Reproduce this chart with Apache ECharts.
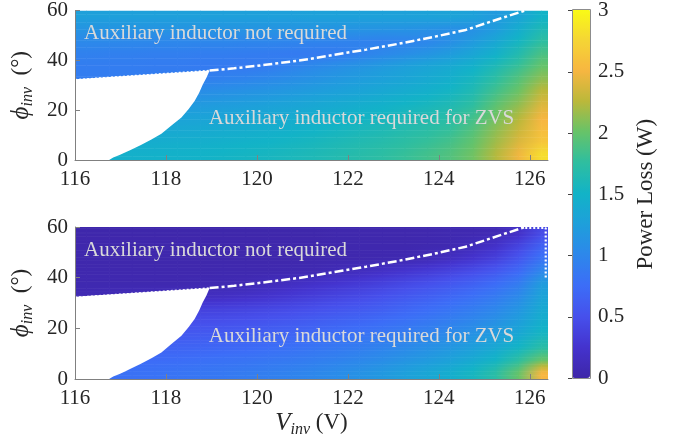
<!DOCTYPE html>
<html><head><meta charset="utf-8">
<script src="https://cdn.jsdelivr.net/npm/echarts@6/dist/echarts.min.js"></script>
<style>html,body{margin:0;padding:0;background:#fff}#c{width:673px;height:442px}</style>
</head><body><div id="c"></div><script>
// ---- data ----
const vinvCenters = [116.25,116.75,117.25,117.75,118.25,118.75,119.25,119.75,120.25,120.75,121.25,121.75,122.25,122.75,123.25,123.75,124.25,124.75,125.25,125.75,126.25];
const phiCenters = [2.5,7.5,12.5,17.5,22.5,27.5,32.5,37.5,42.5,47.5,52.5,57.5];
// power loss (W), one row per phi, upper plot
const lossTop = [
 [1.45,1.45,1.46,1.47,1.48,1.49,1.51,1.53,1.55,1.58,1.61,1.65,1.69,1.73,1.78,1.84,1.91,2.03,2.23,2.47,2.80],
 [1.40,1.40,1.41,1.42,1.43,1.44,1.46,1.48,1.50,1.53,1.56,1.60,1.64,1.68,1.73,1.78,1.85,1.98,2.17,2.38,2.62],
 [1.33,1.33,1.34,1.35,1.36,1.37,1.39,1.41,1.43,1.46,1.49,1.53,1.57,1.61,1.66,1.71,1.77,1.91,2.11,2.30,2.55],
 [1.25,1.25,1.26,1.27,1.28,1.29,1.31,1.33,1.36,1.39,1.42,1.46,1.50,1.54,1.59,1.64,1.70,1.83,2.03,2.22,2.48],
 [1.15,1.15,1.16,1.17,1.18,1.19,1.21,1.24,1.27,1.30,1.34,1.38,1.42,1.46,1.51,1.56,1.62,1.74,1.95,2.12,2.38],
 [1.02,1.02,1.03,1.04,1.05,1.07,1.09,1.12,1.15,1.19,1.23,1.27,1.31,1.36,1.41,1.46,1.53,1.64,1.84,2.02,2.26],
 [0.90,0.90,0.90,0.91,0.92,0.93,0.95,0.98,1.02,1.07,1.12,1.17,1.22,1.27,1.32,1.38,1.45,1.56,1.74,1.92,2.12],
 [0.90,0.90,0.90,0.89,0.89,0.88,0.88,0.87,0.90,0.96,1.02,1.08,1.14,1.20,1.26,1.32,1.38,1.47,1.62,1.80,2.00],
 [0.94,0.93,0.93,0.92,0.92,0.91,0.91,0.90,0.89,0.88,0.88,0.89,0.95,1.01,1.07,1.14,1.22,1.33,1.47,1.66,1.88],
 [1.02,1.02,1.01,1.01,1.00,1.00,1.00,0.99,0.99,0.98,0.97,0.96,0.95,0.94,0.96,1.00,1.08,1.20,1.35,1.54,1.75],
 [1.13,1.13,1.13,1.13,1.13,1.13,1.13,1.13,1.13,1.13,1.13,1.13,1.13,1.13,1.12,1.10,1.08,1.10,1.22,1.42,1.62],
 [1.26,1.26,1.26,1.26,1.26,1.26,1.26,1.26,1.26,1.26,1.27,1.27,1.27,1.28,1.28,1.29,1.30,1.28,1.20,1.30,1.50]
];
// power loss (W), lower plot
const lossBottom = [
 [0.78,0.78,0.79,0.80,0.82,0.84,0.86,0.89,0.92,0.96,1.00,1.05,1.11,1.18,1.26,1.34,1.43,1.55,1.72,2.00,2.50],
 [0.72,0.72,0.73,0.74,0.75,0.77,0.79,0.81,0.84,0.87,0.91,0.95,1.00,1.06,1.13,1.20,1.28,1.38,1.52,1.74,2.00],
 [0.64,0.64,0.65,0.66,0.67,0.68,0.70,0.72,0.75,0.78,0.82,0.86,0.90,0.96,1.02,1.09,1.16,1.25,1.36,1.52,1.72],
 [0.55,0.55,0.56,0.57,0.58,0.59,0.60,0.62,0.65,0.68,0.72,0.76,0.80,0.85,0.91,0.97,1.04,1.12,1.22,1.36,1.55],
 [0.45,0.45,0.46,0.47,0.48,0.49,0.50,0.52,0.55,0.58,0.62,0.66,0.70,0.75,0.80,0.86,0.93,1.01,1.11,1.25,1.45],
 [0.33,0.33,0.34,0.35,0.36,0.37,0.38,0.40,0.43,0.46,0.50,0.54,0.58,0.63,0.69,0.75,0.82,0.90,1.00,1.15,1.38],
 [0.08,0.10,0.12,0.14,0.15,0.16,0.18,0.21,0.25,0.30,0.35,0.40,0.45,0.51,0.57,0.63,0.70,0.78,0.88,1.03,1.30],
 [0.05,0.05,0.05,0.05,0.05,0.06,0.07,0.08,0.12,0.17,0.22,0.27,0.32,0.38,0.44,0.50,0.57,0.65,0.75,0.90,1.22],
 [0.04,0.04,0.04,0.04,0.04,0.04,0.05,0.05,0.05,0.06,0.07,0.10,0.15,0.20,0.26,0.32,0.39,0.47,0.57,0.72,1.00],
 [0.03,0.03,0.03,0.03,0.03,0.03,0.03,0.03,0.03,0.03,0.04,0.04,0.04,0.05,0.06,0.10,0.17,0.26,0.37,0.55,0.80],
 [0.03,0.03,0.03,0.03,0.03,0.03,0.03,0.03,0.03,0.03,0.03,0.03,0.04,0.04,0.04,0.05,0.06,0.12,0.22,0.40,0.65],
 [0.02,0.02,0.02,0.02,0.02,0.02,0.02,0.02,0.02,0.02,0.02,0.03,0.03,0.03,0.03,0.04,0.05,0.06,0.08,0.20,0.45]
];
// region where the chart is blank (white): boundary curve + straight top edge
const maskVinv = [115.8,115.8,116.66,116.84,116.98,117.10,117.21,117.45,117.68,117.90,118.10,118.34,118.50,118.63,118.73,118.81,118.89,118.96,115.8];
const maskPhi  = [32.2,-1,-1,1,2,3,3.95,6,8.2,10.5,13.5,17.1,20.5,23.7,27,30.3,33,35.9,32.2];
// dotted boundary (left part) and dash-dot boundary
const dotVinv = [116.0,118.96];
const dotPhi = [32.2,35.9];
const dashVinv = [118.96,119.5,120.0,120.93,121.66,122.4,123.13,123.86,124.59,125.32,125.9];
const dashPhi  = [35.9,36.8,37.8,39.9,42.1,44.3,46.7,49.3,52.2,56.6,60.0];
// dotted edge in the lower plot (top right corner)
const edgeVinv = [125.9,126.35,126.35];
const edgePhi = [59.6,59.6,39.5];
const noteVinv = [116.2,118.94];
const notePhi = [50.6,16.8];
const noteText = ['Auxiliary inductor not required','Auxiliary inductor required for ZVS'];
const xTicks = {min:116, max:126.4, interval:2};
const yTicks = {min:0, max:60, interval:20};
const cbTicks = {min:0, max:3, interval:0.5};
const parula = ['#3E26A8','#4433CE','#4650EC','#3C6DF7','#2D87EB','#1E9FDB','#12B3C7','#2EBEA0','#66C369','#BBB83A','#F7B641','#F5D634','#F9FB15'];

// ---- chart ----
const serif = '"Liberation Serif", "Times New Roman", serif';
const ink = '#262626';
// quads between neighbouring samples (outer quads reach the axis edges with the edge samples)
const xsExt = [xTicks.min].concat(vinvCenters, [xTicks.max + 0.1]);
const ysExt = [yTicks.min].concat(phiCenters, [yTicks.max]);
function clampI(i, n){ return Math.max(0, Math.min(n - 1, i)); }
function quads(loss){
  const out = [];
  const nr = phiCenters.length, nc = vinvCenters.length;
  const v = (r, c) => loss[clampI(r - 1, nr)][clampI(c - 1, nc)];
  for (let b = 0; b < ysExt.length - 1; b++){
    for (let a = 0; a < xsExt.length - 1; a++){
      out.push([xsExt[a], ysExt[b], xsExt[a+1], ysExt[b+1], v(b, a), v(b, a+1), v(b+1, a), v(b+1, a+1)]);
    }
  }
  return out;
}
function colorOf(val){
  const t = (val - cbTicks.min) / (cbTicks.max - cbTicks.min);
  return echarts.color.lerp(Math.max(0, Math.min(1, t)), parula);
}
// shaded like MATLAB's "shading interp"
function quadItem(params, api){
  const x0 = api.value(0), y0 = api.value(1), x1 = api.value(2), y1 = api.value(3);
  const vBL = api.value(4), vBR = api.value(5), vTL = api.value(6), vTR = api.value(7);
  const pTL = api.coord([x0, y1]), pBR = api.coord([x1, y0]);
  const left = pTL[0], top = pTL[1], w = pBR[0] - pTL[0], h = pBR[1] - pTL[1];
  const n = Math.max(1, Math.ceil(h / 1.5));
  const children = [];
  for (let k = 0; k < n; k++){
    const t = (k + 0.5) / n;
    const vl = vTL + (vBL - vTL) * t;
    const vr = vTR + (vBR - vTR) * t;
    children.push({type:'rect', shape:{x:left, y:top + k * h / n, width:w + 0.6, height:h / n + 0.6},
      style:{fill:new echarts.graphic.LinearGradient(0, 0, 1, 0, [{offset:0, color:colorOf(vl)}, {offset:1, color:colorOf(vr)}])}});
  }
  return {type:'group', children:children};
}
function maskItem(params, api){
  if (params.dataIndex > 0) return null;
  const pts = maskVinv.map((x, i) => api.coord([x, maskPhi[i]]));
  return {type:'polygon', shape:{points:pts}, style:{fill:'#ffffff'}};
}
function noteItem(params, api){
  const p = api.coord([api.value(0), api.value(1)]);
  return {type:'text', x:p[0], y:p[1], style:{text:noteText[params.dataIndex], fill:'#d9d9d9', font:'21px ' + serif, textAlign:'left', verticalAlign:'middle'}};
}
const tickLab = {fontFamily:serif, fontSize:21, color:ink};
const axisGray = '#808080';
const nameRich = {
  i:{fontFamily:serif, fontStyle:'italic', fontSize:25, color:ink, lineHeight:30},
  s:{fontFamily:serif, fontStyle:'italic', fontSize:16, color:ink, verticalAlign:'bottom', lineHeight:24},
  n:{fontFamily:serif, fontSize:23, color:ink, lineHeight:30}
};
function xAx(gi, withName){
  const a = {type:'value', gridIndex:gi, min:xTicks.min, max:xTicks.max, interval:xTicks.interval, z:5,
    axisLine:{show:true, lineStyle:{color:axisGray}}, axisTick:{show:true, inside:true, length:5, lineStyle:{color:axisGray}},
    axisLabel:Object.assign({margin:9, showMaxLabel:false}, tickLab), splitLine:{show:false}};
  if (withName){
    a.name = '{i|V}{s|inv}{n| (V)}'; a.nameLocation = 'middle'; a.nameGap = 29;
    a.nameTextStyle = {rich:nameRich};
  }
  return a;
}
function yAx(gi){
  return {type:'value', gridIndex:gi, min:yTicks.min, max:yTicks.max, interval:yTicks.interval, z:5,
    axisLine:{show:true, lineStyle:{color:axisGray}}, axisTick:{show:true, inside:true, length:5, lineStyle:{color:axisGray}},
    axisLabel:Object.assign({margin:7}, tickLab), splitLine:{show:false},
    name:'{i|ϕ}{s|inv}{n|  (°)}', nameLocation:'middle', nameRotate:90, nameGap:36,
    nameTextStyle:{rich:nameRich}};
}
function lineData(xs, ys){ return xs.map((x, i) => [x, ys[i]]); }
const series = [];
[lossTop, lossBottom].forEach((loss, gi) => {
  series.push({type:'custom', xAxisIndex:gi, yAxisIndex:gi, renderItem:quadItem, data:quads(loss), clip:true, silent:true, z:1});
});
[0, 1].forEach(gi => {
  series.push({type:'custom', xAxisIndex:gi, yAxisIndex:gi, renderItem:maskItem, data:[[maskVinv[0], maskPhi[0]]], clip:true, silent:true, z:2});
  series.push({type:'line', xAxisIndex:gi, yAxisIndex:gi, data:lineData(dotVinv, dotPhi), symbol:'none', silent:true, z:3,
    lineStyle:{color:'#ffffff', width:1.6, type:[2,2]}});
  series.push({type:'line', xAxisIndex:gi, yAxisIndex:gi, data:lineData(dashVinv, dashPhi), symbol:'none', silent:true, z:3,
    lineStyle:{color:'#ffffff', width:2.5, type:[9,3,3,3]}});
  series.push({type:'custom', xAxisIndex:gi, yAxisIndex:gi, renderItem:noteItem, data:lineData(noteVinv, notePhi), clip:false, silent:true, z:4});
});
series.push({type:'line', xAxisIndex:1, yAxisIndex:1, data:lineData(edgeVinv, edgePhi), symbol:'none', silent:true, z:3,
  lineStyle:{color:'#ffffff', width:2.2, type:[2,2]}});

const chart = echarts.init(document.getElementById('c'), null, {renderer:'canvas'});
chart.setOption({
  animation:false,
  backgroundColor:'#ffffff',
  grid:[
    {left:75, top:8, width:473, height:152},
    {left:75, top:227, width:473, height:152},
    {left:572, top:9, width:18, height:369}
  ],
  xAxis:[xAx(0, false), xAx(1, true), {type:'value', gridIndex:2, show:false, min:0, max:1}],
  yAxis:[yAx(0), yAx(1), {type:'value', gridIndex:2, position:'right', min:cbTicks.min, max:cbTicks.max, interval:cbTicks.interval, z:6,
    axisLine:{show:false}, axisTick:{show:true, inside:true, length:4, lineStyle:{color:'#444'}},
    axisLabel:Object.assign({margin:8}, tickLab), splitLine:{show:false},
    name:'Power Loss (W)', nameLocation:'middle', nameRotate:90, nameGap:44,
    nameTextStyle:{fontFamily:serif, fontSize:23, color:ink}}],
  visualMap:{type:'continuous', min:cbTicks.min, max:cbTicks.max, dimension:4, seriesIndex:[0, 1], orient:'vertical',
    left:572, top:9, itemWidth:18, itemHeight:369, padding:0, calculable:false, hoverLink:false, text:null,
    inRange:{color:parula}},
  graphic:[{type:'rect', z:100, silent:true, shape:{x:572.5, y:9.5, width:18, height:369}, style:{fill:null, stroke:'#8c8c8c', lineWidth:1}}],
  series:series
});
</script></body></html>
